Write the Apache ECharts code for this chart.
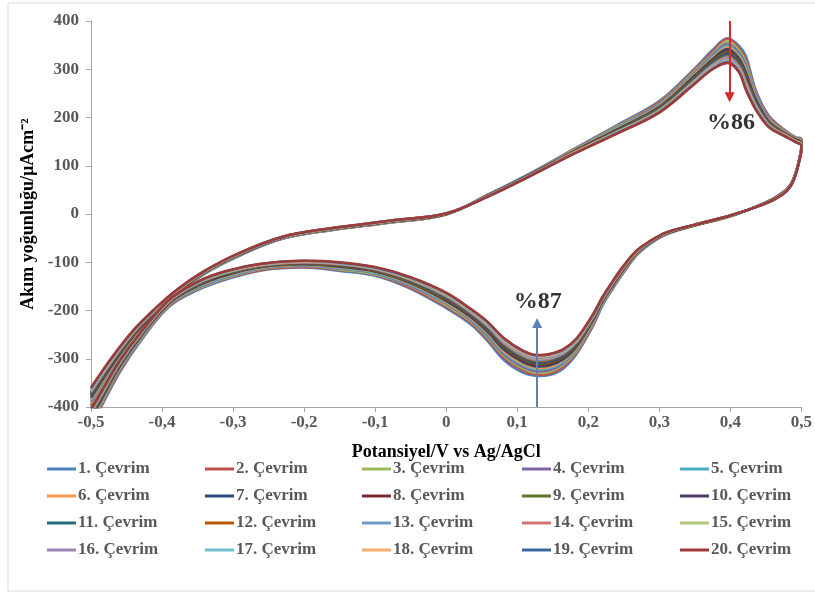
<!DOCTYPE html>
<html>
<head>
<meta charset="utf-8">
<script src="https://cdn.jsdelivr.net/npm/echarts@6/dist/echarts.min.js"></script>
<style>
  html, body { margin: 0; padding: 0; background: #ffffff; }
  #chart { width: 815px; height: 596px; }
</style>
</head>
<body>
<div id="chart"></div>
<script>
// Potential sweep (V vs Ag/AgCl): anodic scan -0.5 -> 0.5, then cathodic scan back to -0.5
const potential = [
  -0.50, -0.47, -0.44, -0.41, -0.38, -0.34, -0.29, -0.23, -0.16, -0.08,
   0.00,  0.06,  0.12,  0.18,  0.24,  0.30,  0.35, 0.375, 0.396, 0.412,
  0.422, 0.436, 0.454, 0.473, 0.492,  0.50,
   0.50, 0.497, 0.492, 0.485, 0.473,  0.45,  0.40,  0.35,  0.31, 0.285,
  0.268,  0.25, 0.235,  0.22, 0.207, 0.184, 0.165, 0.145, 0.128, 0.108,
  0.082, 0.058, 0.034,  0.00, -0.05, -0.10, -0.15, -0.20, -0.26, -0.31,
  -0.35, -0.39, -0.43, -0.46, -0.49, -0.50
];

// Current density (µA/cm²) for each of the 20 cycles
const cycle01 = [-400,-328,-264,-214,-168,-124,-86,-51,-33,-18,-1,41,86,135,184,234,302,340,364,349,327,256,204,178,159,156,139,114,86,62,44,24,-5,-24,-42,-64,-86,-121,-154,-190,-231,-289,-320,-334,-336,-329,-304,-263,-228,-195,-155,-128,-118,-111,-117,-136,-158,-192,-263,-329,-412,-437];
const cycle02 = [-396,-325,-262,-212,-167,-123,-85,-51,-33,-18,-1,41,85,134,182,232,299,336,363,344,320,252,202,177,158,155,139,114,86,62,44,24,-5,-24,-42,-63,-85,-120,-152,-188,-229,-286,-316,-331,-333,-324,-299,-259,-225,-192,-153,-126,-116,-110,-116,-134,-156,-191,-261,-327,-409,-434];
const cycle03 = [-392,-322,-259,-211,-166,-123,-85,-50,-32,-17,-1,40,85,133,181,229,296,332,358,339,314,248,199,175,157,153,138,113,85,61,43,24,-5,-24,-41,-63,-84,-118,-151,-187,-226,-283,-312,-327,-329,-320,-295,-255,-222,-189,-150,-125,-115,-108,-114,-133,-155,-189,-260,-324,-406,-431];
const cycle04 = [-389,-319,-258,-209,-165,-122,-84,-50,-32,-17,0,40,84,132,179,228,293,329,353,334,308,245,198,174,156,152,138,113,85,61,43,23,-4,-23,-41,-62,-83,-117,-150,-185,-225,-280,-309,-324,-326,-317,-292,-252,-219,-186,-149,-123,-113,-107,-113,-131,-153,-188,-258,-323,-403,-428];
const cycle05 = [-386,-317,-256,-208,-165,-122,-84,-50,-32,-17,0,40,84,132,178,226,291,326,349,330,303,242,196,173,156,151,138,113,85,61,43,23,-4,-23,-41,-62,-83,-116,-148,-184,-223,-278,-306,-320,-322,-313,-288,-249,-217,-184,-147,-122,-112,-106,-112,-130,-152,-187,-257,-321,-401,-426];
const cycle06 = [-383,-315,-254,-206,-164,-121,-83,-49,-31,-16,0,39,83,131,176,224,289,323,345,326,298,239,194,172,155,150,137,112,84,60,42,23,-4,-23,-40,-61,-82,-115,-147,-182,-221,-276,-303,-317,-319,-310,-285,-246,-215,-182,-145,-120,-110,-105,-111,-128,-150,-186,-255,-319,-399,-424];
const cycle07 = [-381,-313,-252,-205,-163,-121,-83,-49,-31,-16,0,39,83,130,175,222,287,321,342,323,293,237,192,171,154,149,137,112,84,60,42,23,-4,-23,-40,-61,-81,-114,-146,-181,-219,-274,-301,-314,-316,-307,-282,-244,-213,-180,-143,-119,-109,-104,-110,-127,-149,-185,-254,-317,-397,-422];
const cycle08 = [-378,-311,-251,-204,-163,-121,-83,-49,-31,-16,0,39,83,130,174,221,285,318,338,319,289,234,191,170,154,148,137,112,84,60,42,23,-4,-23,-40,-61,-81,-113,-145,-180,-218,-272,-298,-311,-313,-304,-279,-241,-211,-178,-142,-118,-108,-103,-109,-126,-148,-184,-253,-316,-395,-420];
const cycle09 = [-376,-309,-250,-203,-162,-120,-82,-49,-31,-16,0,39,82,129,173,220,283,316,335,316,285,232,190,170,153,148,137,112,84,60,42,23,-4,-23,-40,-60,-80,-113,-144,-179,-217,-270,-296,-308,-310,-301,-276,-239,-209,-176,-141,-117,-107,-103,-109,-125,-147,-184,-252,-315,-393,-418];
const cycle10 = [-374,-307,-248,-202,-162,-120,-82,-48,-30,-15,0,38,82,129,172,218,281,314,332,313,282,230,188,169,153,147,136,111,83,59,41,23,-4,-23,-39,-60,-80,-112,-144,-178,-215,-268,-294,-306,-308,-299,-274,-237,-207,-174,-139,-116,-106,-102,-108,-124,-146,-183,-251,-313,-391,-416];
const cycle11 = [-372,-306,-247,-201,-161,-120,-82,-48,-30,-15,0,38,82,128,171,217,280,312,330,311,278,228,187,168,152,146,136,111,83,59,41,23,-4,-23,-39,-60,-79,-111,-143,-177,-214,-267,-292,-304,-306,-297,-272,-235,-206,-173,-138,-115,-105,-101,-107,-123,-145,-182,-250,-312,-390,-415];
const cycle12 = [-370,-304,-246,-201,-161,-120,-82,-48,-30,-15,0,38,82,128,171,216,278,310,327,308,275,226,186,168,152,146,136,111,83,59,41,23,-4,-23,-39,-60,-79,-111,-142,-177,-213,-265,-290,-302,-304,-295,-270,-233,-204,-171,-137,-115,-105,-101,-107,-123,-145,-182,-250,-311,-388,-413];
const cycle13 = [-369,-303,-245,-200,-160,-119,-81,-48,-30,-15,1,38,81,127,170,215,277,309,325,306,272,225,185,167,151,145,136,111,83,59,41,22,-3,-22,-39,-59,-78,-110,-142,-176,-212,-264,-289,-300,-302,-293,-268,-232,-203,-170,-136,-114,-104,-100,-106,-122,-144,-181,-249,-310,-387,-412];
const cycle14 = [-367,-302,-244,-199,-160,-119,-81,-48,-30,-15,1,38,81,127,169,214,276,307,323,304,270,223,184,167,151,145,136,111,83,59,41,22,-3,-22,-39,-59,-78,-110,-141,-175,-211,-263,-287,-298,-300,-291,-266,-230,-202,-169,-135,-113,-103,-100,-106,-121,-143,-181,-248,-309,-386,-411];
const cycle15 = [-366,-301,-244,-199,-160,-119,-81,-48,-30,-15,1,38,81,127,169,214,275,306,321,302,268,222,184,166,151,144,136,111,83,59,41,22,-3,-22,-39,-59,-78,-109,-140,-175,-211,-262,-286,-297,-299,-290,-265,-229,-201,-168,-135,-113,-103,-99,-105,-121,-143,-180,-248,-309,-385,-410];
const cycle16 = [-365,-300,-243,-198,-159,-119,-81,-47,-29,-14,1,37,81,126,168,213,274,305,320,301,265,221,183,166,150,144,135,110,82,58,40,22,-3,-22,-38,-59,-77,-109,-140,-174,-210,-261,-285,-296,-298,-289,-264,-228,-200,-167,-134,-112,-102,-99,-105,-120,-142,-180,-247,-308,-384,-409];
const cycle17 = [-364,-299,-242,-198,-159,-119,-81,-47,-29,-14,1,37,81,126,168,212,273,304,318,299,263,220,182,165,150,143,135,110,82,58,40,22,-3,-22,-38,-59,-77,-108,-139,-174,-209,-260,-284,-294,-296,-287,-262,-227,-199,-166,-133,-112,-102,-98,-104,-120,-142,-179,-247,-307,-383,-408];
const cycle18 = [-362,-298,-241,-197,-159,-118,-80,-47,-29,-14,1,37,80,126,167,211,272,302,316,297,261,218,181,165,150,143,135,110,82,58,40,22,-3,-22,-38,-58,-77,-108,-139,-173,-208,-259,-282,-293,-295,-286,-261,-225,-198,-165,-132,-111,-101,-98,-104,-119,-141,-179,-246,-306,-382,-407];
const cycle19 = [-361,-297,-241,-197,-158,-118,-80,-47,-29,-14,1,37,80,125,167,211,271,301,315,296,259,217,181,164,149,142,135,110,82,58,40,22,-3,-22,-38,-58,-76,-107,-138,-173,-208,-258,-281,-291,-293,-284,-259,-224,-197,-164,-132,-111,-101,-97,-103,-119,-141,-178,-246,-306,-381,-406];
const cycle20 = [-360,-296,-240,-196,-158,-118,-80,-47,-29,-14,1,37,80,125,166,210,270,300,313,294,257,216,180,164,149,142,135,110,82,58,40,22,-3,-22,-38,-58,-76,-107,-138,-172,-207,-257,-280,-290,-292,-283,-258,-223,-196,-163,-131,-110,-100,-97,-103,-118,-140,-178,-245,-305,-380,-405];

const cycles = [cycle01, cycle02, cycle03, cycle04, cycle05, cycle06, cycle07, cycle08, cycle09, cycle10,
                cycle11, cycle12, cycle13, cycle14, cycle15, cycle16, cycle17, cycle18, cycle19, cycle20];

const cycleNames = ['1. Çevrim', '2. Çevrim', '3. Çevrim', '4. Çevrim', '5. Çevrim',
                    '6. Çevrim', '7. Çevrim', '8. Çevrim', '9. Çevrim', '10. Çevrim',
                    '11. Çevrim', '12. Çevrim', '13. Çevrim', '14. Çevrim', '15. Çevrim',
                    '16. Çevrim', '17. Çevrim', '18. Çevrim', '19. Çevrim', '20. Çevrim'];

const cycleColors = ['#4F81BD', '#C0504D', '#9BBB59', '#8064A2', '#4BACC6',
                     '#F79646', '#2C4D75', '#772C2A', '#5F7530', '#4D3B62',
                     '#276A7C', '#B65708', '#729ACA', '#CD7371', '#AFC97A',
                     '#9983B5', '#6FBDD1', '#F9AB6B', '#3A679C', '#9E3B38'];

// Peak-current decay annotations: arrow start/end and label position
const anodicArrow = [[0.399, 400], [0.399, 242]];
const anodicLabel = [0.401, 190];
const anodicText = '%86';
const cathodicArrow = [[0.128, -400], [0.128, -226]];
const cathodicLabel = [0.129, -182];
const cathodicText = '%87';

const serif = '"Liberation Serif", "Times New Roman", serif';
const tickGray = '#595959';

const chart = echarts.init(document.getElementById('chart'), null, { renderer: 'canvas' });

const cycleSeries = cycles.map((vals, i) => ({
  name: cycleNames[i],
  type: 'line',
  data: potential.map((p, j) => [p, vals[j]]),
  showSymbol: false,
  symbol: 'none',
  smooth: 0.35,
  clip: true,
  lineStyle: { width: 2.5, color: cycleColors[i] },
  itemStyle: { color: cycleColors[i] },
  emphasis: { disabled: true },
  silent: true,
  z: 2
}));

const arrowSeries = [
  { arrow: anodicArrow, color: '#D42A2A', label: anodicLabel, text: anodicText },
  { arrow: cathodicArrow, color: '#5B82B3', label: cathodicLabel, text: cathodicText }
].map(a => ({
  type: 'scatter',
  data: [{ value: a.label }],
  symbolSize: 0,
  silent: true,
  clip: false,
  z: 5,
  label: {
    show: true,
    position: 'inside',
    formatter: a.text,
    fontFamily: serif,
    fontWeight: 'bold',
    fontSize: 24,
    color: '#000000'
  },
  markLine: {
    silent: true,
    symbol: ['none', 'triangle'],
    symbolSize: 10,
    precision: 3,
    label: { show: false },
    lineStyle: { color: a.color, width: 2, type: 'solid' },
    data: [[{ coord: a.arrow[0] }, { coord: a.arrow[1] }]]
  }
}));

// Legend laid out as five columns of four entries
const legendColumns = [0, 1, 2, 3, 4].map(c => [c, c + 5, c + 10, c + 15].map(i => cycleNames[i]));
const legendLeft = [42, 200, 357, 517, 675];

const legends = legendColumns.map((names, c) => ({
  orient: 'vertical',
  left: legendLeft[c],
  top: 455,
  itemGap: 9,
  itemWidth: 29,
  itemHeight: 3,
  icon: 'rect',
  selectedMode: false,
  data: names,
  textStyle: {
    fontFamily: serif,
    fontWeight: 'bold',
    fontSize: 17,
    lineHeight: 18,
    color: tickGray,
    padding: [0, 0, 0, -3]
  }
}));

chart.setOption({
  animation: false,
  backgroundColor: '#ffffff',
  graphic: [{
    type: 'rect',
    shape: { x: 8, y: 3, width: 820, height: 588 },
    style: { fill: 'none', stroke: '#d9d9d9', lineWidth: 1 },
    silent: true,
    z: -1
  }],
  grid: { left: 91, right: 9, top: 21, bottom: 189, containLabel: false },
  legend: legends,
  xAxis: {
    type: 'value',
    min: -0.5,
    max: 0.5,
    interval: 0.1,
    name: 'Potansiyel/V vs Ag/AgCl',
    nameLocation: 'middle',
    nameGap: 36,
    nameTextStyle: { fontFamily: serif, fontWeight: 'bold', fontSize: 18, color: '#000000' },
    axisLine: { onZero: false, lineStyle: { color: '#a6a6a6', width: 1 } },
    axisTick: { show: true, inside: false, length: 5, lineStyle: { color: '#a6a6a6' } },
    axisLabel: {
      margin: 7,
      fontFamily: serif,
      fontWeight: 'bold',
      fontSize: 17,
      color: tickGray,
      showMaxLabel: true,
      showMinLabel: true,
      formatter: v => (Math.abs(v) < 1e-9 ? '0' : (Math.round(v * 10) / 10).toFixed(1).replace('.', ','))
    },
    splitLine: { show: false }
  },
  yAxis: {
    type: 'value',
    min: -400,
    max: 400,
    interval: 100,
    name: 'Akım yoğunluğu/µAcm⁻²',
    nameLocation: 'middle',
    nameGap: 52,
    nameTextStyle: { fontFamily: serif, fontWeight: 'bold', fontSize: 18, color: '#000000' },
    axisLine: { show: true, onZero: false, lineStyle: { color: '#a6a6a6', width: 1 } },
    axisTick: { show: true, inside: false, length: 5, lineStyle: { color: '#a6a6a6' } },
    axisLabel: {
      margin: 12,
      fontFamily: serif,
      fontWeight: 'bold',
      fontSize: 17,
      color: tickGray
    },
    splitLine: { show: false }
  },
  series: cycleSeries.concat(arrowSeries)
});
</script>
</body>
</html>
